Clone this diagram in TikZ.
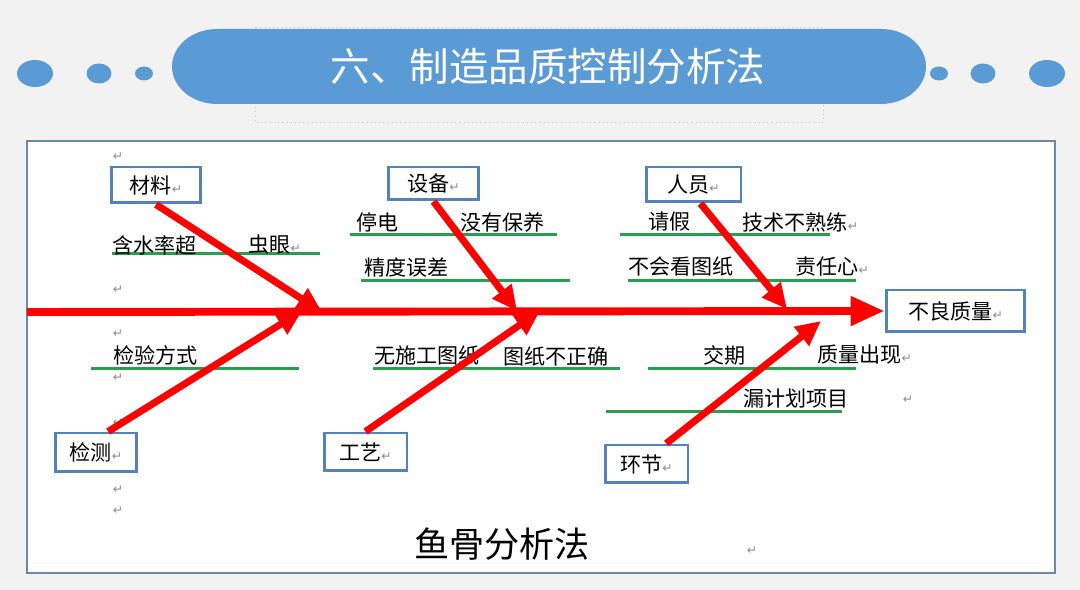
\documentclass[tikz,border=0pt]{standalone}
\usepackage{fontspec}
\usetikzlibrary{arrows.meta}
\newfontfamily\cjk{Noto Sans CJK SC}
\newfontfamily\retfont{DejaVu Sans}
\definecolor{pillblue}{RGB}{91,155,213}
\definecolor{boxblue}{RGB}{84,130,190}
\definecolor{panelgray}{RGB}{110,135,165}
\definecolor{bonegreen}{RGB}{40,158,78}
\definecolor{bggray}{RGB}{242,242,242}
\newcommand{\retm}{{\retfont\fontsize{7}{7}\selectfont\color{black!45}↵}}

\begin{document}
\begin{tikzpicture}[x=0.02cm, y=-0.02cm,
    every node/.style={font=\cjk\fontsize{12}{14}\selectfont, inner sep=0pt},
    catbox/.style={draw=boxblue, line width=1.7pt, fill=white, minimum width=1.66cm, minimum height=0.76cm},
    bone/.style={draw=red, line width=4pt, -{Triangle[length=0.5cm, width=0.46cm]}},
    spine/.style={draw=red, line width=4.5pt, -{Triangle[length=0.68cm, width=0.56cm]}},
    rule/.style={draw=bonegreen, line width=1.7pt},
    cause/.style={anchor=west}]
    % Page background and bounding box
    \fill[bggray] (0,0) rectangle (1080,590);
    \useasboundingbox (0,0) rectangle (1080,590);

    % Title banner: dotted frame, pill and side dots
    \draw[black!25, dotted] (255,27) rectangle (823,122);
    \fill[pillblue] (217,29) -- (881,29)
        arc[start angle=90, end angle=-90, x radius=0.9cm, y radius=0.75cm]
        -- (217,104)
        arc[start angle=270, end angle=90, x radius=0.9cm, y radius=0.75cm] -- cycle;
    \node[font=\cjk\fontsize{22.5}{26}\selectfont, text=white] (title) at (548,67) {六、制造品质控制分析法};
    \foreach \x/\w/\h in {35/36/27, 99/25/20, 144/18/14, 939/18/14, 983/25/20, 1047/36/27} {
        \fill[pillblue] (\x,73.5) ellipse[x radius=\w*0.01cm, y radius=\h*0.01cm];
    }

    % Panel
    \draw[panelgray, line width=1.2pt, fill=white] (27,141) rectangle (1055,573);

    % Category boxes and effect box
    \node[catbox, minimum width=1.8cm, minimum height=0.72cm] (mat) at (156,185) {材料\retm};
    \node[catbox, minimum width=1.82cm, minimum height=0.66cm] (equ) at (433.5,183.5) {设备\retm};
    \node[catbox, minimum width=1.9cm, minimum height=0.7cm] (per) at (693.5,184.5) {人员\retm};
    \node[catbox, minimum width=1.64cm, minimum height=0.78cm] (chk) at (96,452.5) {检测\retm};
    \node[catbox, minimum width=1.66cm, minimum height=0.76cm] (proc) at (365.5,452) {工艺\retm};
    \node[catbox, minimum width=1.66cm, minimum height=0.76cm] (env) at (646.5,464) {环节\retm};
    \node[catbox, minimum width=2.78cm, minimum height=0.84cm] (head) at (955.5,311) {不良质量\retm};

    % Green cause lines
    \draw[rule] (112,254) -- (320,254);
    \draw[rule] (350,235) -- (557,235);
    \draw[rule] (361,281) -- (570,281);
    \draw[rule] (620,235) -- (830,235);
    \draw[rule] (628,281) -- (856,281);
    \draw[rule] (91,369) -- (299,369);
    \draw[rule] (373,369) -- (620,369);
    \draw[rule] (648,369) -- (856,369);
    \draw[rule] (606,412) -- (842,412);

    % Cause texts
    \node[cause] (c1) at (112,245) {含水率超};
    \node[cause] (c2) at (248,245) {虫眼\retm};
    \node[cause] (c3) at (356,222) {停电};
    \node[cause] (c4) at (460,222) {没有保养};
    \node[cause] (c5) at (364,267) {精度误差};
    \node[cause] (c6) at (648,222) {请假};
    \node[cause] (c7) at (742,222) {技术不熟练\retm};
    \node[cause] (c8) at (628,267) {不会看图纸};
    \node[cause] (c9) at (795,267) {责任心\retm};
    \node[cause] (c10) at (113,355) {检验方式};
    \node[cause] (c11) at (374,356) {无施工图纸};
    \node[cause] (c12) at (503,356) {图纸不正确};
    \node[cause] (c13) at (703,355) {交期};
    \node[cause] (c14) at (817,355) {质量出现\retm};
    \node[cause] (c15) at (743,399) {漏计划项目};

    % Stray paragraph marks
    \foreach \x/\y [count=\i] in {118/157, 118/290, 118/334, 118/378, 118/423, 118/490, 118/511, 908/400, 752/551} {
        \node (pm\i) at (\x,\y) {\retm};
    }

    % Spine and bones
    \coordinate (s0) at (27,312);
    \coordinate (t1) at (322,312);
    \coordinate (t2) at (517,311);
    \coordinate (t3) at (787,309);
    \coordinate (t4) at (302,311);
    \coordinate (t5) at (540,311);
    \coordinate (t6) at (821,321);
    \draw[spine] (s0) -- (head.west);
    \draw[bone] (mat.south) -- (t1);
    \draw[bone] (equ.south) -- (t2);
    \draw[bone] (per.-70) -- (t3);
    \draw[bone] (chk.60) -- (t4);
    \draw[bone] (proc.north) -- (t5);
    \draw[bone] (env.46) -- (t6);

    % Caption
    \node[anchor=west, font=\cjk\fontsize{20}{24}\selectfont] (cap) at (414,544) {鱼骨分析法};
\end{tikzpicture}
\end{document}
